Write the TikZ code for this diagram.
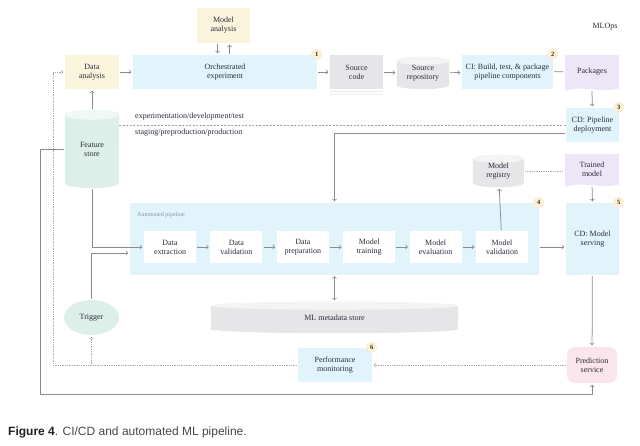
\documentclass[tikz,border=0pt]{standalone}
\usepackage{fontspec}
\setmainfont{Liberation Serif}
\newfontfamily\capfont{Liberation Sans}
\usepackage{tikz}
\usetikzlibrary{arrows}
\usetikzlibrary{positioning}
\usetikzlibrary{shapes.geometric}
\usetikzlibrary{backgrounds}
\definecolor{mline}{HTML}{8A8B8F}
\definecolor{mtext}{HTML}{2A2E3A}
\definecolor{mlabel}{HTML}{8296A2}
\definecolor{mblue}{HTML}{E1F4FC}
\definecolor{myellow}{HTML}{FBF4DD}
\definecolor{mgray}{HTML}{E6E6E9}
\definecolor{mteal}{HTML}{DCEFE8}
\definecolor{mpurple}{HTML}{ECE6F6}
\definecolor{mpink}{HTML}{FBE4EB}
\definecolor{mbadge}{HTML}{FCF2D2}
\tikzset{box/.style = {fill = #1, text = mtext, align = center, inner sep = 0,
                       font = \fontsize{8}{9}\selectfont}}
\tikzset{stepbox/.style = {box = white, minimum width = 52pt, minimum height = 32pt}}
\tikzset{badge/.style = {circle, fill = mbadge, draw = orange!20, line width = 0.4pt, inner sep = 0,
                         minimum size = 10.5pt, text = mtext, font = \fontsize{6.5}{7}\selectfont\bfseries}}
\tikzset{conn/.style = {draw = mline, line width = 0.75pt, ->, >=to,
                        shorten > = 1.5pt, shorten < = 1pt}}
\tikzset{fback/.style = {conn, draw = mline!75, densely dotted}}
\tikzset{envline/.style = {draw = mline!80, line width = 0.6pt, dash pattern = on 2pt off 1.5pt}}
% cylinder: node, colour, half width, cap radius
\newcommand\drum[4]{%
  \fill [#2] ([yshift=-#4]#1.north west) -- ([yshift=#4]#1.south west)
    arc [start angle = 180, end angle = 360, x radius = #3, y radius = #4]
    -- ([yshift=-#4]#1.north east)
    arc [start angle = 0, end angle = 180, x radius = #3, y radius = #4] -- cycle;
  \fill [#2!45!white] ([yshift=-#4]#1.north) ellipse [x radius = #3, y radius = #4];
}
% page with a wavy lower edge
\newcommand\wavydoc[2]{%
  \fill [#2] (#1.north west) -- (#1.north east) -- (#1.south east)
    .. controls ([xshift=-18pt, yshift=-6pt]#1.south east) and ([xshift=18pt, yshift=4pt]#1.south west)
    .. ([yshift=-3pt]#1.south west) -- cycle;
}

\begin{document}
\begin{tikzpicture}[x = 1pt, y = -1pt]
    \useasboundingbox (0, 0) rectangle (640, 446);
    \node [box = myellow, minimum width = 53pt, minimum height = 35pt] (manal) at (223.5, 25.5) {Model\\analysis};
    \node [box = myellow, minimum width = 54pt, minimum height = 34pt] (danal) at (92, 72) {Data\\analysis};
    \node [box = mblue, minimum width = 184pt, minimum height = 34pt] (orch) at (225, 72) {Orchestrated\\experiment};
    \node [box = mgray, minimum width = 53pt, minimum height = 34pt] (srccode) at (356.5, 72) {Source\\code};
    \node [box = none, minimum width = 52pt, minimum height = 32pt] (srcrepo) at (423, 73) {Source\\repository};
    \node [box = mblue, minimum width = 91pt, minimum height = 34pt] (ci) at (507.5, 72) {CI: Build, test, \& package\\pipeline components};
    \node [box = none, minimum width = 54pt, minimum height = 33pt] (pkgs) at (592, 71.5) {Packages};
    \node [box = mblue, minimum width = 53pt, minimum height = 34pt] (cdpipe) at (592.5, 125) {CD: Pipeline\\deployment};
    \node [box = none] (mlops) at (605, 27) {MLOps};
    \node [box = none, minimum width = 54pt, minimum height = 78pt] (fstore) at (92, 149) {Feature\\store};
    \node [box = none, anchor = west] (envdev) at (135, 117) {experimentation/development/test};
    \node [box = none, anchor = west] (envprod) at (135, 133) {staging/preproduction/production};

    \node [box = mblue, minimum width = 409pt, minimum height = 72pt] (autopipe) at (334.5, 239) {};
    \node [anchor = west, inner sep = 0, text = mlabel, font = \fontsize{6}{7}\selectfont] (autolabel) at (137, 215) {Automated pipeline};
    \node [stepbox] (dext) at (170, 247) {Data\\extraction};
    \node [stepbox, right = 14pt of dext] (dval) {Data\\validation};
    \node [stepbox, right = 14pt of dval] (dprep) {Data\\preparation};
    \node [stepbox, right = 14pt of dprep] (mtrain) {Model\\training};
    \node [stepbox, right = 14pt of mtrain] (meval) {Model\\evaluation};
    \node [stepbox, right = 14pt of meval] (mval) {Model\\validation};

    \node [box = none, minimum width = 51pt, minimum height = 32pt] (mreg) at (498.5, 171) {Model\\registry};
    \node [box = none, minimum width = 54pt, minimum height = 30pt] (tmodel) at (592, 169) {Trained\\model};
    \node [box = mblue, minimum width = 53pt, minimum height = 72pt] (cdserve) at (592.5, 239) {CD: Model\\serving};
    \node [box = none, minimum width = 247pt, minimum height = 31pt] (mlmeta) at (334.5, 317.5) {ML metadata store};
    \node [box = mteal, ellipse, minimum width = 55pt, minimum height = 35pt] (trigger) at (91.5, 317.5) {Trigger};
    \node [box = mblue, minimum width = 74pt, minimum height = 34pt] (perfmon) at (335, 365) {Performance\\monitoring};
    \node [box = mpink, rounded corners = 8pt, minimum width = 50pt, minimum height = 36pt] (predserv) at (592, 365) {Prediction\\service};

    \foreach \nd/\num in {orch/1, ci/2, cdpipe/3, autopipe/4, cdserve/5, perfmon/6}
        \node [badge] (badge\num) at ([xshift=-0.5pt, yshift=0.5pt]\nd.north east) {\num};

    \node [anchor = west, inner sep = 0, text = black!72, font = \capfont\fontsize{12}{14}\selectfont] (caption) at (8, 432)
        {\textbf{\color{black!88}Figure 4}. CI/CD and automated ML pipeline.};

    \begin{scope}[on background layer]
        \drum{srcrepo}{mgray}{26pt}{4pt}
        \drum{fstore}{mteal}{27pt}{5pt}
        \drum{mreg}{mgray}{25.5pt}{4pt}
        \drum{mlmeta}{mgray}{123.5pt}{4pt}
        \wavydoc{pkgs}{mpurple}
        \wavydoc{tmodel}{mpurple}
        \fill [mgray!75!white] ([yshift=-2pt]srccode.south west) rectangle ([yshift=-3.2pt]srccode.south east);
        \fill [mgray!75!white] ([yshift=-5pt]srccode.south west) rectangle ([yshift=-6.2pt]srccode.south east);
    \end{scope}

    \draw [conn] (danal) -- (orch);
    \draw [conn] (orch) -- (srccode);
    \draw [conn] (srccode) -- (srcrepo);
    \draw [conn] (srcrepo) -- (ci);
    \draw [conn, -] (ci) -- (pkgs);
    \draw [conn, shorten < = 3pt] (pkgs.south) -- (cdpipe);
    \draw [conn] ([xshift=-6pt]manal.south) -- ([xshift=-6pt]orch.north -| manal.south);
    \draw [conn] ([xshift=6pt]orch.north -| manal.south) -- ([xshift=6pt]manal.south);
    \draw [conn] (fstore) -- (danal);
    \draw [envline] (fstore.east |- cdpipe.west) -- (cdpipe.west);
    \draw [conn] ([yshift=-8pt]cdpipe.west) -| (autopipe.north);
    \draw [conn] (fstore.south) |- (dext.west);
    \draw [conn] (trigger.north) |- ([yshift=-14pt]autopipe.west);
    \foreach \a/\b in {dext/dval, dval/dprep, dprep/mtrain, mtrain/meval, meval/mval}
        \draw [conn] (\a) -- (\b);
    \draw [conn, <->] (autopipe.south) -- (mlmeta.north);
    \draw [conn] (mval) -- (mreg);
    \draw [fback, -] (mreg.east) -- (tmodel.west |- mreg.east);
    \draw [conn, shorten < = 3pt] (tmodel.south) -- (cdserve.north);
    \draw [conn] (autopipe.east |- dext) -- (cdserve.west |- dext);
    \draw [conn] (cdserve) -- (predserv);
    \draw [fback] (predserv) -- (perfmon);
    \coordinate (fbcorner) at (53, 365);
    \draw [fback] (perfmon.west) -- (fbcorner) |- (danal.west);
    \draw [fback] (perfmon.west -| trigger) -- (trigger.south);
    \coordinate (outcorner) at (40, 394);
    \draw [conn] (fstore.west) -| (outcorner) -| (predserv.south);
\end{tikzpicture}
\end{document}
